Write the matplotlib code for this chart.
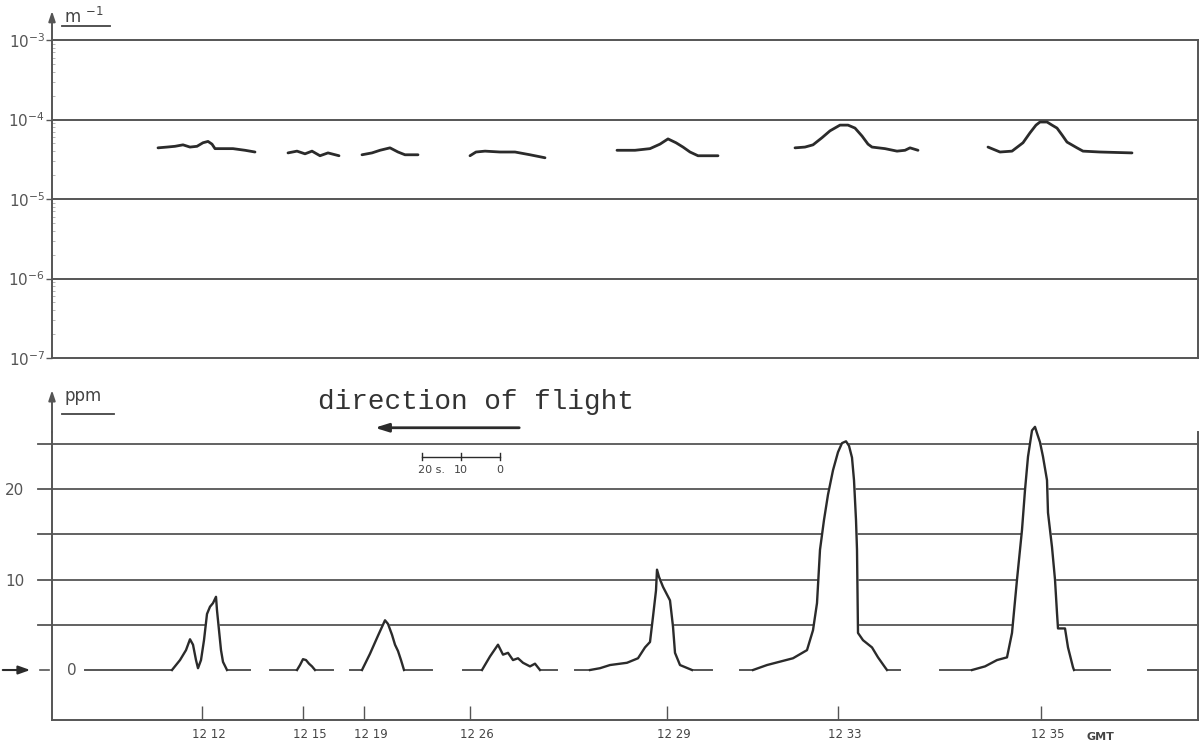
import matplotlib
matplotlib.use('Agg')
import matplotlib.pyplot as plt
from matplotlib.lines import Line2D
from matplotlib.transforms import ScaledTranslation

# x positions along the record (chart units, 3.9 units = 1 s of flight)
SEC = 3.9

# extinction coefficient (m^-1), top panel, one trace per pass
ext_x1 = [106, 115, 123, 131, 138, 145, 151, 156, 160, 163, 170, 181, 193, 203]
ext_v1 = [4.4e-5, 4.5e-5, 4.6e-5, 4.8e-5, 4.5e-5, 4.6e-5, 5.1e-5, 5.3e-5, 4.9e-5, 4.3e-5, 4.3e-5, 4.3e-5, 4.1e-5, 3.9e-5]
ext_x2 = [236, 245, 253, 260, 268, 276, 287]
ext_v2 = [3.8e-5, 4.0e-5, 3.7e-5, 4.0e-5, 3.5e-5, 3.8e-5, 3.5e-5]
ext_x3 = [310, 320, 328, 338, 346, 353, 366]
ext_v3 = [3.6e-5, 3.8e-5, 4.1e-5, 4.4e-5, 3.9e-5, 3.6e-5, 3.6e-5]
ext_x4 = [418, 424, 433, 448, 463, 478, 493]
ext_v4 = [3.5e-5, 3.9e-5, 4.0e-5, 3.9e-5, 3.9e-5, 3.6e-5, 3.3e-5]
ext_x5 = [565, 583, 598, 608, 616, 624, 631, 638, 646, 666]
ext_v5 = [4.1e-5, 4.1e-5, 4.3e-5, 4.9e-5, 5.7e-5, 5.1e-5, 4.5e-5, 3.9e-5, 3.5e-5, 3.5e-5]
ext_x6 = [743, 753, 761, 770, 778, 788, 796, 803, 810, 816, 820, 833, 845, 853, 858, 866]
ext_v6 = [4.4e-5, 4.5e-5, 4.8e-5, 5.9e-5, 7.2e-5, 8.5e-5, 8.5e-5, 7.8e-5, 6.2e-5, 4.9e-5, 4.5e-5, 4.3e-5, 4.0e-5, 4.1e-5, 4.4e-5, 4.1e-5]
ext_x7 = [936, 948, 960, 971, 978, 984, 988, 995, 1000, 1005, 1010, 1015, 1025, 1031, 1048, 1080]
ext_v7 = [4.5e-5, 3.9e-5, 4.0e-5, 5.1e-5, 6.8e-5, 8.5e-5, 9.3e-5, 9.3e-5, 8.5e-5, 7.8e-5, 6.4e-5, 5.2e-5, 4.4e-5, 4.0e-5, 3.9e-5, 3.8e-5]

# concentration (ppm), bottom panel
ppm_x1 = [120, 128, 134, 138, 141, 144, 146, 149, 152, 155, 158, 161, 164, 165, 167, 169, 171, 175]
ppm_v1 = [0, 1.1, 2.2, 3.4, 2.8, 1.1, 0.2, 1.1, 3.3, 6.2, 7.0, 7.4, 8.1, 6.6, 4.4, 2.2, 0.9, 0]
ppm_x2 = [245, 248, 251, 254, 257, 260, 263]
ppm_v2 = [0, 0.55, 1.2, 1.1, 0.7, 0.4, 0]
ppm_x3 = [310, 318, 326, 333, 336, 340, 343, 346, 349, 352]
ppm_v3 = [0, 1.8, 3.8, 5.5, 5.1, 3.9, 2.8, 2.1, 1.1, 0]
ppm_x4 = [430, 438, 446, 451, 456, 461, 466, 471, 478, 483, 488]
ppm_v4 = [0, 1.5, 2.8, 1.7, 1.9, 1.1, 1.3, 0.8, 0.4, 0.7, 0]
ppm_x5 = [538, 548, 558, 575, 586, 593, 598, 601, 604, 605, 607, 611, 618, 621, 623, 628, 640]
ppm_v5 = [0, 0.2, 0.55, 0.8, 1.3, 2.5, 3.1, 5.9, 8.8, 11.1, 10.3, 9.2, 7.7, 4.8, 1.9, 0.55, 0]
ppm_x6 = [701, 715, 741, 755, 761, 765, 768, 772, 776, 781, 786, 790, 794, 797, 800, 802, 804, 805, 806, 811, 820, 826, 833, 835]
ppm_v6 = [0, 0.55, 1.3, 2.2, 4.4, 7.4, 13.3, 16.6, 19.4, 22.1, 24.1, 25.1, 25.3, 24.8, 23.5, 21.0, 16.6, 13.3, 4.1, 3.3, 2.5, 1.4, 0.3, 0]
ppm_x7 = [920, 933, 945, 955, 960, 965, 970, 973, 976, 980, 983, 985, 988, 991, 995, 996, 1000, 1003, 1005, 1006, 1013, 1016, 1021, 1022]
ppm_v7 = [0, 0.4, 1.1, 1.4, 4.1, 10.0, 15.5, 19.9, 23.6, 26.5, 26.9, 26.2, 25.2, 23.6, 21.0, 17.4, 13.6, 10.0, 6.3, 4.6, 4.6, 2.5, 0.3, 0]

# zero-line pieces drawn for each pass
base_start = [33, 218, 298, 411, 523, 688, 888, 1096]
base_end = [198, 281, 380, 505, 660, 848, 1058, 1145]

time_pos = [150, 251, 312, 418, 615, 786, 989]
time_labels = ['12 12', '12 15', '12 19', '12 26', '12 29', '12 33', '12 35']

ppm_levels = [5, 10, 15, 20, 25]
decades = [1e-4, 1e-5, 1e-6]

ink = '#2b2b2b'
grid_c = '#555555'
W, H = 1203, 752

fig = plt.figure(figsize=(W / 100, H / 100), dpi=100)

# ---- top panel: extinction ----
ax1 = fig.add_axes([52 / W, 1 - 358 / H, 1146 / W, 318 / H])
ax1.set_yscale('log')
ax1.set_ylim(1e-7, 1e-3)
ax1.set_xlim(0, 1146)
for s in ax1.spines.values():
    s.set_color(grid_c)
    s.set_linewidth(1.4)
for d in decades:
    ax1.axhline(d, color=grid_c, lw=1.4, zorder=1)
ax1.set_xticks([])
ax1.set_yticks([1e-7, 1e-6, 1e-5, 1e-4, 1e-3])
ax1.set_yticklabels([r'$10^{-7}$', r'$10^{-6}$', r'$10^{-5}$', r'$10^{-4}$', r'$10^{-3}$'])
ax1.tick_params(axis='y', which='major', length=4, width=1, color=grid_c,
                labelsize=11, labelcolor='#555555', pad=1)
ax1.tick_params(axis='y', which='minor', length=2, width=0.6, color='#aaaaaa', direction='in')
ax1.yaxis.set_minor_formatter(plt.NullFormatter())

for xs, vs in [(ext_x1, ext_v1), (ext_x2, ext_v2), (ext_x3, ext_v3), (ext_x4, ext_v4),
               (ext_x5, ext_v5), (ext_x6, ext_v6), (ext_x7, ext_v7)]:
    ax1.plot(xs, vs, color=ink, lw=2.0, solid_capstyle='round', zorder=3)

ax1.annotate('', xy=(0, 1.1), xytext=(0, 0.99), xycoords='axes fraction',
             arrowprops=dict(arrowstyle='-|>,head_length=0.6,head_width=0.2', color=grid_c, lw=1.4))
fig.text(64 / W, 1 - 17 / H, r'm $^{-1}$', fontsize=12, color='#444444', va='center')
fig.add_artist(Line2D([62 / W, 110 / W], [1 - 26 / H, 1 - 26 / H], color='#444444', lw=1.3))

# ---- bottom panel: concentration ----
ax2 = fig.add_axes([52 / W, 1 - 720 / H, 1146 / W, 288 / H])
ax2.set_xlim(0, 1146)
ax2.set_ylim(-5.53, 26.33)
ax2.spines['top'].set_visible(False)
for s in ['left', 'right', 'bottom']:
    ax2.spines[s].set_color(grid_c)
    ax2.spines[s].set_linewidth(1.4)

for lv in ppm_levels:
    ax2.plot([-14, 1146], [lv, lv], color=grid_c, lw=1.3, zorder=1, clip_on=False)
for a, b in zip(base_start, base_end):
    ax2.plot([a, b], [0, 0], color=grid_c, lw=1.4, zorder=1)
ax2.plot([-12, -3], [0, 0], color=grid_c, lw=1.2, clip_on=False)

for xs, vs in [(ppm_x1, ppm_v1), (ppm_x2, ppm_v2), (ppm_x3, ppm_v3), (ppm_x4, ppm_v4),
               (ppm_x5, ppm_v5), (ppm_x6, ppm_v6), (ppm_x7, ppm_v7)]:
    ax2.fill_between(xs, 0, vs, color='white', zorder=2, clip_on=False)
    ax2.plot(xs, vs, color=ink, lw=1.7, zorder=3, clip_on=False)

ax2.set_yticks([10, 20])
ax2.set_yticklabels(['10', '20'])
ax2.tick_params(axis='y', length=0, labelsize=11, labelcolor='#555555', pad=20)
ax2.text(20, 0, '0', fontsize=11, color='#555555', ha='center', va='center')

ax2.set_xticks(time_pos)
ax2.set_xticklabels(time_labels)
ax2.tick_params(axis='x', direction='in', length=10, width=1, color=grid_c,
                labelsize=8.5, labelcolor='#444444', pad=6)
shift = ScaledTranslation(5 / 72, 0, fig.dpi_scale_trans)
for lab in ax2.get_xticklabels():
    lab.set_transform(lab.get_transform() + shift)
ax2.text(1048, -7.4, 'GMT', fontsize=8, fontweight='bold', color='#444444',
         ha='center', va='center', clip_on=False)

ax2.annotate('', xy=(0, 1.155), xytext=(0, 0.99), xycoords='axes fraction',
             arrowprops=dict(arrowstyle='-|>,head_length=0.6,head_width=0.2', color=grid_c, lw=1.4))
fig.text(64 / W, 1 - 396 / H, 'ppm', fontsize=12, color='#444444', va='center')
fig.add_artist(Line2D([62 / W, 114 / W], [1 - 414 / H, 1 - 414 / H], color='#444444', lw=1.3))

# arrow pointing at zero level
ax2.annotate('', xy=(-19, 0), xytext=(-52, 0), xycoords='data', annotation_clip=False,
             arrowprops=dict(arrowstyle='-|>,head_length=0.7,head_width=0.25', color=ink, lw=1.5))

# direction of flight
ax2.text(424, 29.7, 'direction of flight', family='Liberation Mono', fontsize=20,
         color='#333333', ha='center', va='center', clip_on=False)
ax2.annotate('', xy=(320, 26.8), xytext=(470, 26.8), xycoords='data', annotation_clip=False,
             arrowprops=dict(arrowstyle='-|>,head_length=0.8,head_width=0.25', color=ink, lw=2.0))

# 20 s scale bar
bar_end = 448
bar_y = 23.6
ax2.plot([bar_end - 20 * SEC, bar_end], [bar_y, bar_y], color=ink, lw=1.0, zorder=4)
for k, lab in zip([20, 10, 0], ['20 s.', '10', '0']):
    xk = bar_end - k * SEC
    ax2.plot([xk, xk], [bar_y - 0.35, bar_y + 0.45], color=ink, lw=1.0, zorder=4)
    ax2.text(xk + (10 if k == 20 else 0), bar_y - 1.5, lab, fontsize=8,
             color='#444444', ha='center', va='center')

fig.savefig('out.png', dpi=100, facecolor='white')
